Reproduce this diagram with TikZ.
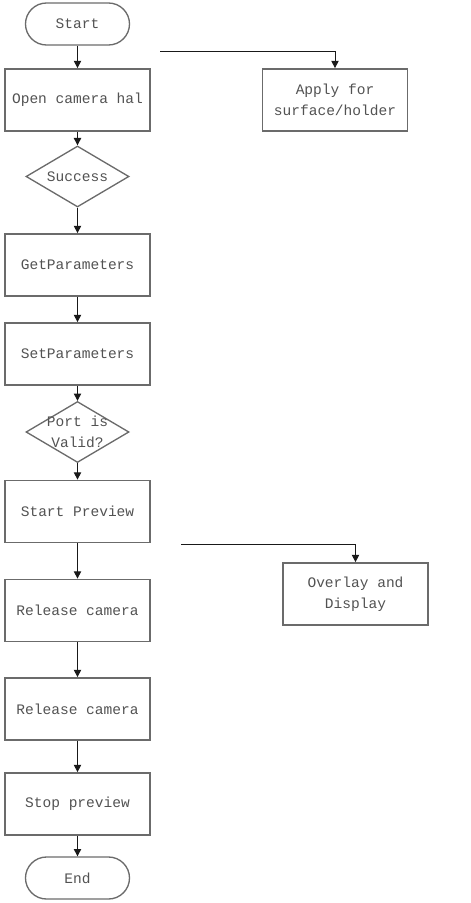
\documentclass[tikz,border=0pt]{standalone}
\usepackage{fontspec}
\usetikzlibrary{arrows.meta, positioning, shapes.geometric}
\newfontfamily\flowfont{Liberation Mono}
\def\boxdrawcolor{black!58}
\def\labeltextcolor{black!68}
\def\linecolor{black!90}
\def\boxwidth{108.75pt}
\def\boxheight{46.5pt}
\def\terminalwidth{78pt}
\def\terminalheight{31.5pt}
\def\decisionwidth{77.25pt}
\def\decisionheight{45.75pt}
\tikzset{
	% labels
	label_text/.style={
		font=\flowfont\fontsize{10.9}{15.5}\selectfont,
		text=\labeltextcolor,
		align=center,
	},
	% general
	module/.style={
		draw=\boxdrawcolor,
		line width=1.3pt,
		label_text,
		shape=rectangle,
		inner sep=0,
	},
	% process boxes
	process/.style={
		module,
		minimum width=\boxwidth,
		minimum height=\boxheight,
	},
	% start / end
	terminal/.style={
		module,
		line width=1pt,
		rounded corners=\terminalheight/2,
		minimum width=\terminalwidth,
		minimum height=\terminalheight,
	},
	% decisions
	decision/.style={
		module,
		line width=1pt,
		shape=diamond,
		minimum width=\decisionwidth,
		minimum height=\decisionheight,
	},
	% connections
	connection/.style={
		draw=\linecolor,
		line width=0.75pt,
		-{Triangle[length=5.5pt,width=5.5pt]},
	},
}
\begin{document}
\begin{tikzpicture}[x=0.75pt, y=-0.75pt]
		\useasboundingbox (0,0) rectangle (471,903);

		% Main column
		\node[terminal] (start) at (77.5,24) {Start};
		\node[process] (open_hal) at (77.5,100) {Open camera hal};
		\node[decision] (success) at (77.5,176.5) {};
		\node[label_text] (success_text) at (success) {Success};
		\node[process] (get_params) at (77.5,265) {GetParameters};
		\node[process] (set_params) at (77.5,354) {SetParameters};
		\node[decision] (port_valid) at (77.5,432) {};
		\node[label_text] (port_valid_text) at (port_valid) {Port is\\Valid?};
		\node[process] (start_preview) at (77.5,511.5) {Start Preview};
		\node[process] (release_one) at (77.5,610.5) {Release camera};
		\node[process] (release_two) at (77.5,709) {Release camera};
		\node[process] (stop_preview) at (77.5,804) {Stop preview};
		\node[terminal] (end) at (77.5,878) {End};

		% Side boxes
		\node[process] (apply_surface) at (335,100) {Apply for\\surface/holder};
		\node[process] (overlay_display) at (355.5,594) {Overlay and\\Display};

		% Branch starts
		\coordinate (surface_branch) at (160,51);
		\coordinate (overlay_branch) at (181,544);

		% Connections
		\foreach \from/\to in {start/open_hal, open_hal/success, success/get_params,
				get_params/set_params, set_params/port_valid, port_valid/start_preview,
				start_preview/release_one, release_one/release_two,
				release_two/stop_preview, stop_preview/end} {
			\draw[connection] (\from) -- (\to);
		}
		\draw[connection] (surface_branch) -| (apply_surface);
		\draw[connection] (overlay_branch) -| (overlay_display);
	\end{tikzpicture}
\end{document}
